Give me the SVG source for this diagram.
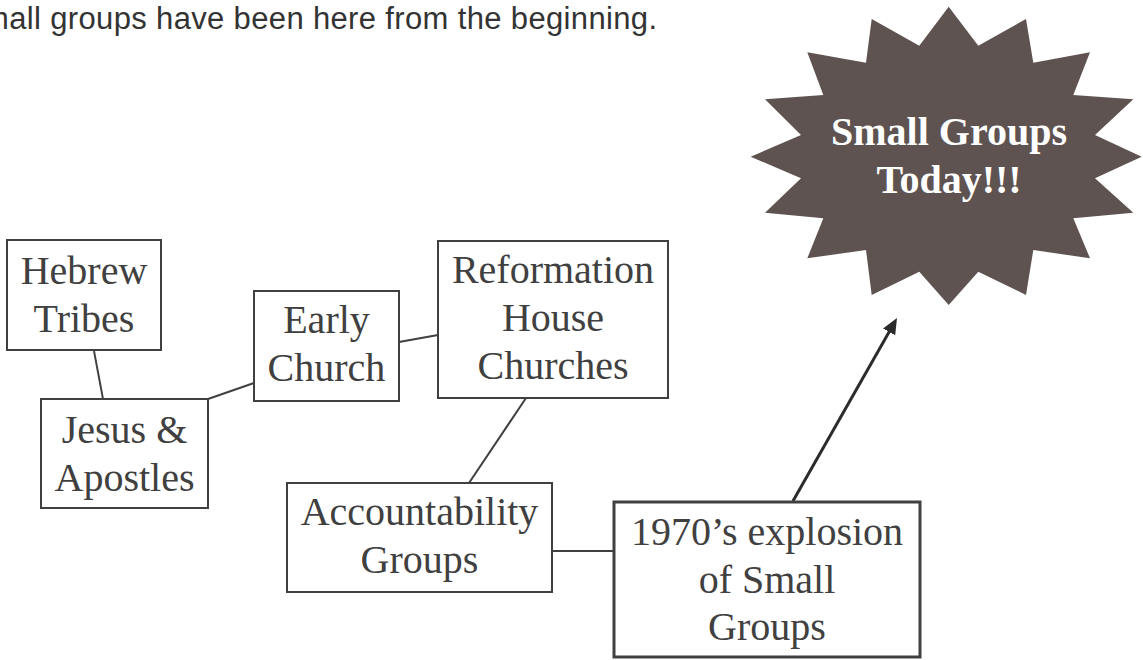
<svg xmlns="http://www.w3.org/2000/svg" width="1143" height="660" viewBox="0 0 1143 660">
  <style>
    .box { fill: #ffffff; stroke: #404040; stroke-width: 2; }
    .box-thick { fill: #ffffff; stroke: #404040; stroke-width: 3; }
    .lbl { font-family: "Liberation Serif", "Times New Roman", serif; font-size: 40px; fill: #404040; text-anchor: middle; }
    .star-lbl { font-family: "Liberation Serif", "Times New Roman", serif; font-size: 40px; font-weight: bold; fill: #ffffff; text-anchor: middle; }
    .conn { stroke: #404040; stroke-width: 2; fill: none; }
    .arrow { stroke: #2b2b2b; stroke-width: 3; fill: none; }
    .title { font-family: "Liberation Sans", Arial, sans-serif; font-size: 31px; fill: #333333; }
  </style>
  <defs>
    <marker id="ah" markerUnits="userSpaceOnUse" markerWidth="18" markerHeight="16" refX="6" refY="7" orient="auto">
      <path d="M0,0 L16,7 L0,14 z" fill="#2b2b2b"/>
    </marker>
  </defs>
  <rect width="1143" height="660" fill="#ffffff"/>

  <text class="title" x="-38" y="29" textLength="695" lengthAdjust="spacing">Small groups have been here from the beginning.</text>

  <g id="connectors">
    <line class="conn" x1="94" y1="351" x2="103" y2="399"/>
    <line class="conn" x1="208" y1="399" x2="254" y2="383"/>
    <line class="conn" x1="399" y1="342" x2="438" y2="335"/>
    <line class="conn" x1="526" y1="398" x2="469" y2="483"/>
    <line class="conn" x1="552" y1="551" x2="614" y2="551"/>
    <line class="arrow" x1="793" y1="501" x2="892.06" y2="326.69" marker-end="url(#ah)"/>
  </g>

  <g id="hebrew-tribes">
    <rect class="box" x="7" y="240" width="154" height="110"/>
    <text class="lbl" x="84" y="284">Hebrew</text>
    <text class="lbl" x="84" y="332">Tribes</text>
  </g>

  <g id="jesus-apostles">
    <rect class="box" x="41" y="399" width="167" height="109"/>
    <text class="lbl" x="124.5" y="443">Jesus &amp;</text>
    <text class="lbl" x="124.5" y="491">Apostles</text>
  </g>

  <g id="early-church">
    <rect class="box" x="254" y="291" width="145" height="110"/>
    <text class="lbl" x="326.5" y="333">Early</text>
    <text class="lbl" x="326.5" y="381">Church</text>
  </g>

  <g id="reformation">
    <rect class="box" x="438" y="241" width="230" height="157"/>
    <text class="lbl" x="553" y="283">Reformation</text>
    <text class="lbl" x="553" y="331">House</text>
    <text class="lbl" x="553" y="379">Churches</text>
  </g>

  <g id="accountability">
    <rect class="box" x="287" y="483" width="265" height="109"/>
    <text class="lbl" x="419.5" y="525">Accountability</text>
    <text class="lbl" x="419.5" y="573">Groups</text>
  </g>

  <g id="explosion-1970">
    <rect class="box-thick" x="614" y="502" width="306" height="155"/>
    <text class="lbl" x="767" y="545">1970’s explosion</text>
    <text class="lbl" x="767" y="593">of Small</text>
    <text class="lbl" x="767" y="640">Groups</text>
  </g>

  <g id="small-groups-today">
    <polygon fill="#5e5350" points="948.7,6.7 978.3,45.7 1026,19 1033.3,62.7 1090,52.3 1073.3,95 1133.3,99.3 1095,135 1141.7,156.7 1095,178.3 1133.3,212.7 1073.3,218.3 1090,258.3 1033.3,250 1026,295 978.3,271.7 948.7,305 919.3,271.7 871.7,295 866,250 807.3,258.3 823.3,218.3 765,212.7 801,178.3 750.7,156.7 801,135 765,99.3 823.3,95 807.3,52.3 866,62.7 871.7,19 919.3,45.7"/>
    <text class="star-lbl" x="949" y="145">Small Groups</text>
    <text class="star-lbl" x="949" y="193">Today!!!</text>
  </g>
</svg>
